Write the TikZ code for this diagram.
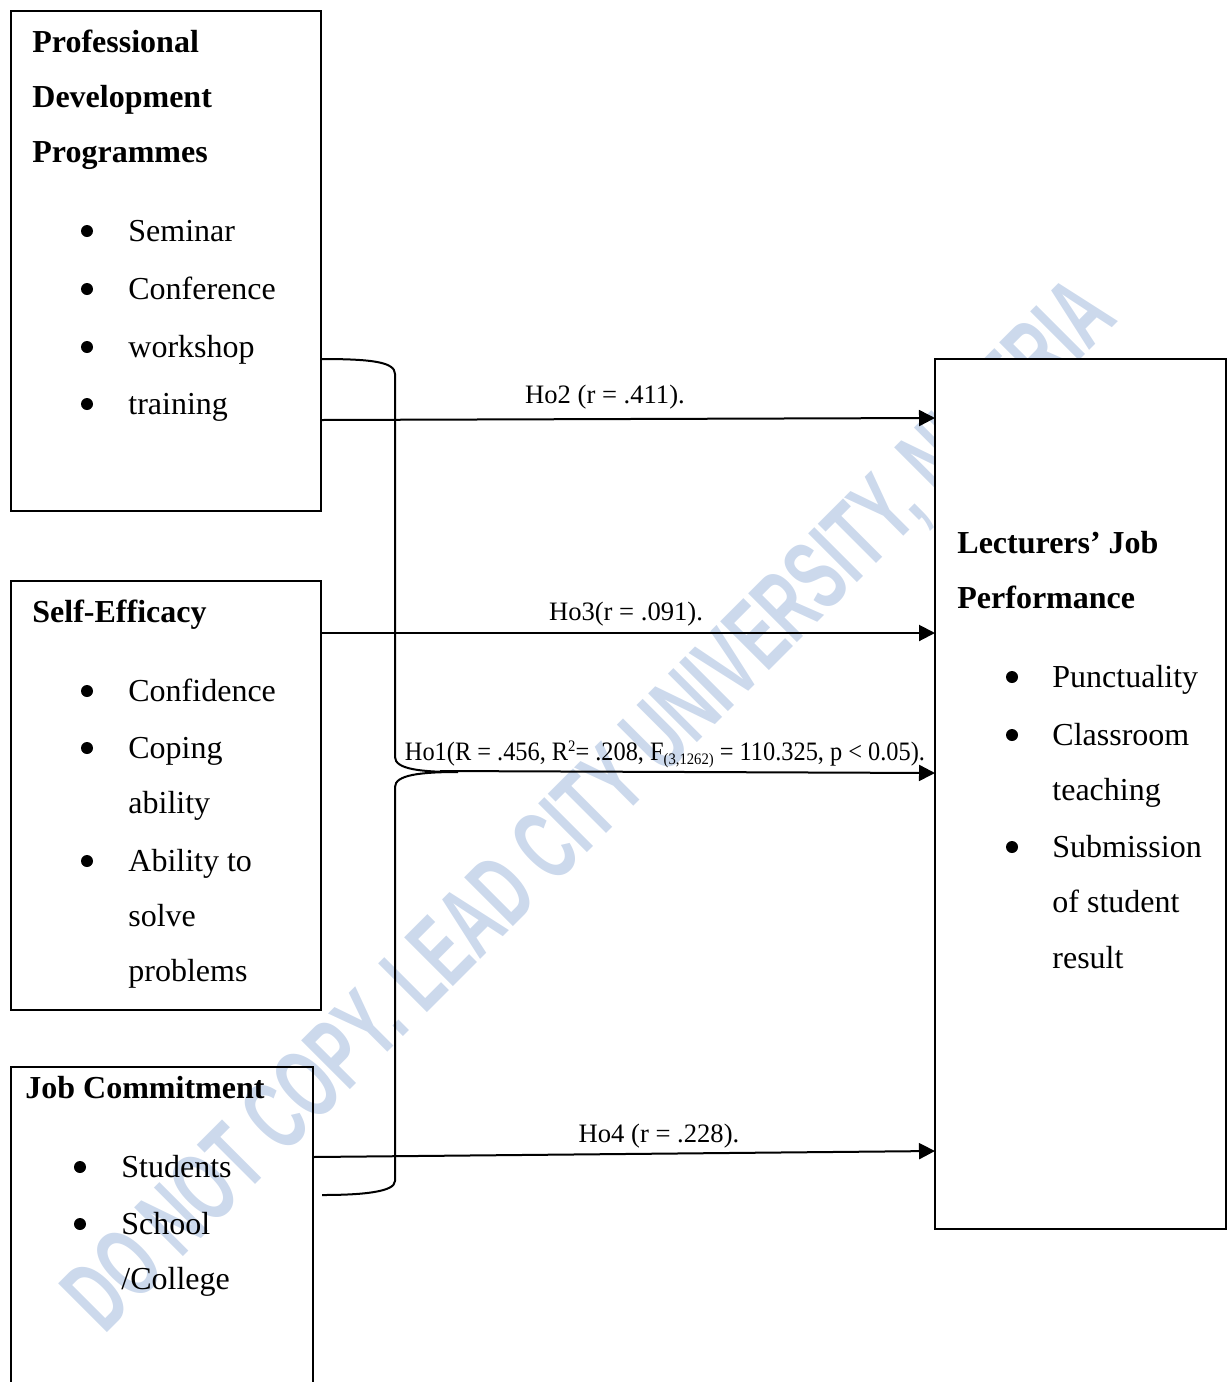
\documentclass[tikz,border=0pt]{standalone}
\usepackage{fontspec}
\setmainfont{Liberation Serif}
\newfontfamily\wmfont{Liberation Sans}
\usetikzlibrary{arrows.meta}
\definecolor{wmblue}{RGB}{204,217,236}
\newcommand{\mysup}[1]{\raisebox{4.2pt}{\fontsize{8}{8}\selectfont #1}}
\newcommand{\mysub}[1]{\raisebox{-2.2pt}{\fontsize{8}{8}\selectfont #1}}
\begin{document}
\begin{tikzpicture}[x=0.5pt,y=-0.5pt,
  box/.style={draw=black, line width=1pt, rectangle, inner sep=0, outer sep=0},
  txt/.style={inner sep=0, anchor=base west, font=\fontsize{16}{19}\selectfont},
  head/.style={inner sep=0, anchor=base west, font=\fontsize{16}{19}\selectfont\bfseries},
  lab/.style={inner sep=0, anchor=base, font=\fontsize{13.3}{16}\selectfont},
  conn/.style={line width=1pt},
  arr/.style={line width=1pt, -{Triangle[length=8pt,width=8pt]}},
  bul/.style={fill=black}
]
\clip (0,0) rectangle (1227,1382);
\useasboundingbox (0,0) rectangle (1227,1382);

% watermark
\node[inner sep=0, anchor=base west, rotate=45, text=wmblue] (wm) at (104,1336)
  {\resizebox{718pt}{35pt}{\wmfont\bfseries DO NOT COPY. LEAD CITY UNIVERSITY, NIGERIA}};

% boxes
\node[box, minimum width=155pt, minimum height=250pt] (pdp) at (166,261) {};
\node[box, minimum width=155pt, minimum height=214.5pt] (se) at (166,795.5) {};
\node[box, minimum width=151pt, minimum height=176.5pt] (jc) at (162,1243.5) {};
\node[box, fill=white, minimum width=145.5pt, minimum height=435pt] (ljp) at (1080.5,794) {};

% PDP text
\node[head] (h1) at (32,52) {Professional};
\node[head] (h2) at (32,107) {Development};
\node[head] (h3) at (32,162) {Programmes};
\node[txt] (p1) at (128,241) {Seminar};
\node[txt] (p2) at (128,299) {Conference};
\node[txt] (p3) at (128,357) {workshop};
\node[txt] (p4) at (128,414) {training};
\foreach \y in {231,289,347,404} \fill[bul] (87,\y) circle[radius=3pt];

% SE text
\node[head] (s0) at (32,622) {Self-Efficacy};
\node[txt] (s1) at (128,701) {Confidence};
\node[txt] (s2) at (128,758) {Coping};
\node[txt] (s3) at (128,813) {ability};
\node[txt] (s4) at (128,871) {Ability to};
\node[txt] (s5) at (128,926) {solve};
\node[txt] (s6) at (128,981) {problems};
\foreach \y in {691,748,861} \fill[bul] (87,\y) circle[radius=3pt];

% JC text
\node[head] (j0) at (25,1098) {Job Commitment};
\node[txt] (j1) at (121,1177) {Students};
\node[txt] (j2) at (121,1234) {School};
\node[txt] (j3) at (121,1289) {/College};
\foreach \y in {1167,1224} \fill[bul] (80,\y) circle[radius=3pt];

% LJP text
\node[head] (l0) at (957,553) {Lecturers’ Job};
\node[head] (l1) at (957,608) {Performance};
\node[txt] (q1) at (1052,687) {Punctuality};
\node[txt] (q2) at (1052,745) {Classroom};
\node[txt] (q3) at (1052,800) {teaching};
\node[txt] (q4) at (1052,857) {Submission};
\node[txt] (q5) at (1052,912) {of student};
\node[txt] (q6) at (1052,968) {result};
\foreach \y in {677,735,847} \fill[bul] (1012,\y) circle[radius=3pt];

% level coordinates
\coordinate (y359) at (0,359);
\coordinate (y418) at (0,418);
\coordinate (y420) at (0,420);
\coordinate (y633) at (0,633);
\coordinate (y773) at (0,773);
\coordinate (y1151) at (0,1151);
\coordinate (y1157) at (0,1157);
\coordinate (tip) at (458,772);
\coordinate (bend) at (322,1195);
\coordinate (a1s) at (440,771);

% brace
\draw[conn] (pdp.east |- y359) .. controls (372,359) and (395,362) .. (395,374)
  -- (395,757) .. controls (395,769) and (420,772) .. (tip)
  .. controls (420,772) and (395,775) .. (395,787)
  -- (395,1181) .. controls (395,1192) and (362,1195) .. (bend);

% arrows
\draw[arr] (pdp.east |- y420) -- (ljp.west |- y418);
\draw[arr] (se.east |- y633) -- (ljp.west |- y633);
\draw[arr] (a1s) -- (ljp.west |- y773);
\draw[arr] (jc.east |- y1157) -- (ljp.west |- y1151);

% labels
\node[lab] (lb2) at (605,403) {Ho2 (r = .411).};
\node[lab] (lb3) at (626,620) {Ho3(r = .091).};
\node[lab] (lb1) at (665,760) {\resizebox{260pt}{\height}{Ho1(R = .456, R\mysup{2}= .208, F\mysub{(3,1262)} = 110.325, p < 0.05).}};
\node[lab] (lb4) at (659,1142) {Ho4 (r = .228).};
\end{tikzpicture}
\end{document}
